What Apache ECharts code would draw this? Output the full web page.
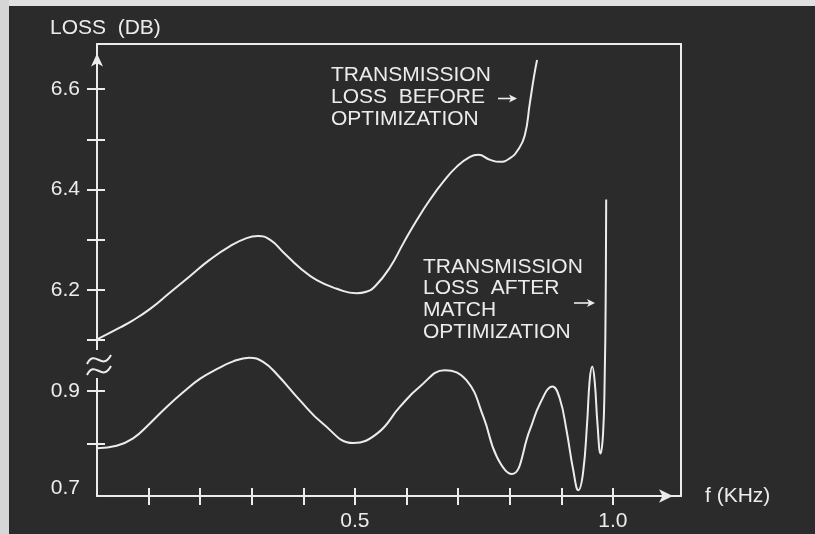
<!DOCTYPE html>
<html><head><meta charset="utf-8">
<script src="https://cdn.jsdelivr.net/npm/echarts@6/dist/echarts.min.js"></script>
<style>html,body{margin:0;padding:0;background:#2b2b2b}#c{width:815px;height:534px}</style>
</head><body><div id="c"></div>
<script>
// ---- data (frequency in kHz, loss in dB) ----
const beforeFreq = [0, 0.045, 0.068, 0.103, 0.141, 0.180, 0.219, 0.258, 0.290, 0.312, 0.335, 0.361, 0.393, 0.426, 0.465, 0.503, 0.522, 0.540, 0.568, 0.594, 0.620, 0.645, 0.671, 0.697, 0.723, 0.739, 0.762, 0.781, 0.800, 0.816, 0.829, 0.839, 0.847, 0.853];
const beforeLoss = [6.101, 6.125, 6.138, 6.162, 6.194, 6.227, 6.260, 6.287, 6.303, 6.307, 6.300, 6.275, 6.244, 6.219, 6.202, 6.193, 6.196, 6.208, 6.245, 6.293, 6.339, 6.379, 6.415, 6.445, 6.465, 6.469, 6.459, 6.455, 6.462, 6.479, 6.507, 6.572, 6.625, 6.658];
const afterFreq = [0, 0.038, 0.070, 0.103, 0.135, 0.168, 0.200, 0.232, 0.264, 0.295, 0.322, 0.350, 0.393, 0.437, 0.497, 0.544, 0.587, 0.626, 0.674, 0.716, 0.749, 0.775, 0.804, 0.839, 0.859, 0.883, 0.897, 0.910, 0.923, 0.933, 0.942, 0.950, 0.955, 0.960, 0.965, 0.970, 0.976, 0.981, 0.984, 0.986, 0.987];
const afterLoss = [0.791, 0.796, 0.810, 0.839, 0.870, 0.899, 0.924, 0.942, 0.957, 0.964, 0.956, 0.931, 0.883, 0.839, 0.801, 0.820, 0.870, 0.909, 0.940, 0.921, 0.851, 0.775, 0.742, 0.826, 0.877, 0.909, 0.886, 0.826, 0.750, 0.711, 0.743, 0.839, 0.921, 0.947, 0.915, 0.839, 0.781, 0.820, 0.921, 1.074, 1.266];
const xTicks = [0.1, 0.2, 0.3, 0.4, 0.5, 0.6, 0.7, 0.8, 0.9, 1.0];
const xLabels = [0.5, 1.0];
const upperTicks = [6.1, 6.2, 6.3, 6.4, 6.5, 6.6];
const upperLabels = [6.2, 6.4, 6.6];
const lowerTicks = [0.8, 0.9];
const lowerLabels = [0.7, 0.9];

const BG = '#2b2b2b';
const FG = '#ececec';
const FONT = '"Liberation Sans", Arial, Helvetica, sans-serif';
const lineStyle = {color: FG, width: 2};
const zip = (a, b) => a.map((v, i) => [v, b[i]]);

const chart = echarts.init(document.getElementById('c'), null, {renderer: 'canvas'});

function yOut(gi, min, max, ticks, labels, extraLine) {
  return {
    gridIndex: gi, type: 'value', min: min, max: max, position: 'left',
    axisLine: Object.assign({show: true, onZero: false, lineStyle: lineStyle}, extraLine || {}),
    axisTick: {show: true, inside: false, length: 10, lineStyle: lineStyle, customValues: ticks},
    axisLabel: {show: true, margin: 17, color: FG, fontSize: 21, fontFamily: FONT, customValues: labels,
      formatter: v => (Math.abs(v - 0.7) < 1e-9 ? '{up|0.7}' : v.toFixed(1)),
      rich: {up: {color: FG, fontSize: 21, fontFamily: FONT, padding: [0, 0, 16, 0]}}},
    splitLine: {show: false}
  };
}
function yIn(gi, min, max, ticks) {
  return {
    gridIndex: gi, type: 'value', min: min, max: max, position: 'left',
    axisLine: {show: false, onZero: false},
    axisTick: {show: true, inside: true, length: 8, lineStyle: lineStyle, customValues: ticks},
    axisLabel: {show: false}, splitLine: {show: false}
  };
}
function yRight(gi, min, max) {
  return {
    gridIndex: gi, type: 'value', min: min, max: max, position: 'right',
    axisLine: {show: true, onZero: false, lineStyle: lineStyle},
    axisTick: {show: false}, axisLabel: {show: false}, splitLine: {show: false}
  };
}
function arrow(x1, x2, y) {
  return [
    {type: 'line', z: 100, shape: {x1: x1, y1: y, x2: x2 - 3, y2: y}, style: {stroke: FG, lineWidth: 1.6}},
    {type: 'polygon', z: 100, shape: {points: [[x2, y], [x2 - 8, y - 4], [x2 - 6, y], [x2 - 8, y + 4]]}, style: {fill: FG}}
  ];
}

const XMAX = 1.132;

chart.setOption({
  backgroundColor: BG,
  animation: false,
  grid: [
    {left: 97, right: 134, top: 44, bottom: 169},
    {left: 97, right: 134, top: 365, bottom: 38}
  ],
  xAxis: [
    {gridIndex: 0, type: 'value', min: 0, max: XMAX, position: 'top',
     axisLine: {show: true, onZero: false, lineStyle: lineStyle},
     axisTick: {show: false}, axisLabel: {show: false}, splitLine: {show: false}},
    {gridIndex: 1, type: 'value', min: 0, max: XMAX, position: 'bottom',
     name: 'f (KHz)', nameLocation: 'end', nameGap: 24,
     nameTextStyle: {color: FG, fontSize: 21, fontFamily: FONT, verticalAlign: 'middle'},
     axisLine: {show: true, onZero: false, lineStyle: lineStyle,
       symbol: ['none', 'arrow'], symbolSize: [10, 14], symbolOffset: [0, -8]},
     axisTick: {show: true, inside: false, length: 9, lineStyle: lineStyle, customValues: xTicks},
     axisLabel: {show: true, margin: 15, color: FG, fontSize: 21, fontFamily: FONT,
       customValues: xLabels, formatter: v => v.toFixed(1)},
     splitLine: {show: false}},
    {gridIndex: 1, type: 'value', min: 0, max: XMAX, position: 'bottom',
     axisLine: {show: false, onZero: false},
     axisTick: {show: true, inside: true, length: 8, lineStyle: lineStyle, customValues: xTicks},
     axisLabel: {show: false}, splitLine: {show: false}}
  ],
  yAxis: [
    yOut(0, 6.05, 6.69, upperTicks, upperLabels,
      {symbol: ['none', 'arrow'], symbolSize: [9, 13], symbolOffset: [0, -9.5]}),
    yIn(0, 6.05, 6.69, upperTicks),
    yOut(1, 0.7, 0.95, lowerTicks, lowerLabels),
    yIn(1, 0.7, 0.95, lowerTicks),
    yRight(0, 6.05, 6.69),
    yRight(1, 0.7, 0.95)
  ],
  series: [
    {type: 'line', name: 'before', xAxisIndex: 0, yAxisIndex: 0, data: zip(beforeFreq, beforeLoss),
     smooth: 0.5, showSymbol: false, symbol: 'none', clip: false, lineStyle: {color: FG, width: 2}},
    {type: 'line', name: 'after', xAxisIndex: 1, yAxisIndex: 2, data: zip(afterFreq, afterLoss),
     smooth: 0.45, showSymbol: false, symbol: 'none', clip: false, lineStyle: {color: FG, width: 2}}
  ],
  graphic: [
    {type: 'rect', z: 100, shape: {x: 0, y: 0, width: 815, height: 6}, style: {fill: '#e0e0e0'}},
    {type: 'rect', z: 100, shape: {x: 0, y: 0, width: 9, height: 534}, style: {fill: '#d6d6d6'}},
    {type: 'rect', z: 100, shape: {x: 90, y: 350, width: 14, height: 28}, style: {fill: BG}},
    {type: 'bezierCurve', z: 101, shape: {x1: 87, y1: 364, cpx1: 95, cpy1: 348, cpx2: 102, cpy2: 372, x2: 111, y2: 355},
     style: {stroke: FG, lineWidth: 2, fill: null}},
    {type: 'bezierCurve', z: 101, shape: {x1: 87, y1: 375, cpx1: 95, cpy1: 359, cpx2: 102, cpy2: 383, x2: 111, y2: 366},
     style: {stroke: FG, lineWidth: 2, fill: null}},
    {type: 'text', z: 100, style: {text: 'LOSS  (DB)', x: 50, y: 28, fill: FG, font: '21px ' + FONT, textVerticalAlign: 'middle'}},
    {type: 'text', z: 100, style: {text: 'TRANSMISSION\nLOSS  BEFORE\nOPTIMIZATION', x: 331, y: 64, fill: FG,
      font: '21px ' + FONT, lineHeight: 22, textVerticalAlign: 'top'}},
    {type: 'text', z: 100, style: {text: 'TRANSMISSION\nLOSS  AFTER\nMATCH\nOPTIMIZATION', x: 423, y: 256, fill: FG,
      font: '21px ' + FONT, lineHeight: 21.7, textVerticalAlign: 'top'}}
  ].concat(arrow(498, 517, 98.5), arrow(574, 595, 303))
});
</script></body></html>
